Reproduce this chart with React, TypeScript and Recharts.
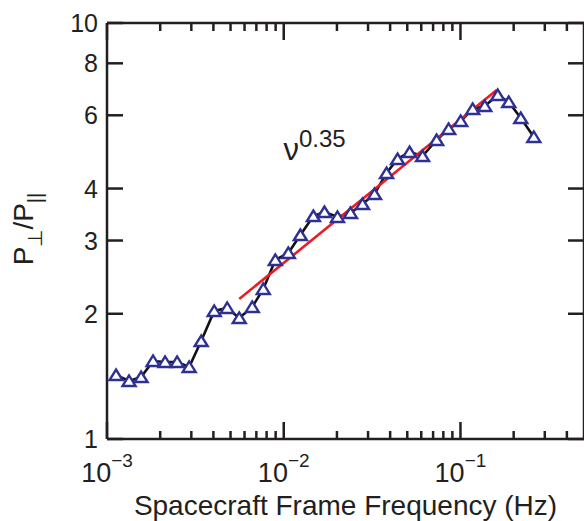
import React from "react";
import { LineChart, Line, XAxis, YAxis, ReferenceDot, ReferenceLine, Label } from "recharts";

// measured P_perp / P_par ratio vs spacecraft-frame frequency (Hz)
const freq = [
  0.001125, 0.001333, 0.001559, 0.001823, 0.002132, 0.002494, 0.002917,
  0.003411, 0.004043, 0.00479, 0.005602, 0.006637, 0.007663, 0.008962,
  0.01062, 0.01242, 0.01472, 0.017, 0.02014, 0.02386, 0.02791, 0.03264,
  0.03817, 0.04406, 0.05152, 0.06104, 0.0733, 0.08573, 0.1003, 0.1173,
  0.1372, 0.1625, 0.1876, 0.2194, 0.26,
];
const ratio = [
  1.425, 1.379, 1.409, 1.54, 1.532, 1.532, 1.49, 1.72, 2.031, 2.065, 1.954,
  2.077, 2.294, 2.694, 2.8, 3.093, 3.436, 3.513, 3.418, 3.494, 3.672, 3.881,
  4.359, 4.71, 4.896, 4.789, 5.233, 5.563, 5.814, 6.214, 6.318, 6.713, 6.458,
  5.91, 5.321,
];

// power-law fit, nu^0.35
const fitFreq = [0.0056, 0.1604];
const fitRatio = [2.17, 6.9];

const xTicks = [
  0.001, 0.002, 0.003, 0.004, 0.005, 0.006, 0.007, 0.008, 0.009,
  0.01, 0.02, 0.03, 0.04, 0.05, 0.06, 0.07, 0.08, 0.09,
  0.1, 0.2, 0.3, 0.4,
];
const xDecades = [0.001, 0.01, 0.1];
const xExponents = ["\u22123", "\u22122", "\u22121"];
const yTicks = [1, 2, 3, 4, 6, 8, 10];

const data = freq.map((f, i) => ({ f, r: ratio[i] }));
const fitData = fitFreq.map((f, i) => ({ f, r: fitRatio[i] }));

const INK = "#231f20";
const BLUE = "#2e3192";
const FONT = "'Liberation Sans', Arial, Helvetica, sans-serif";

// box edges in px (chart margins below put them here)
const PLOT_LEFT = 107;
const PLOT_TOP = 23;
const PLOT_RIGHT = 584;
const PLOT_BOTTOM = 439;

// bottom + top ticks pointing into the box
function XTick({ payload }: any) {
  const x = payload.coordinate;
  const idx = xDecades.indexOf(payload.value);
  const len = idx >= 0 ? 17 : 8;
  return (
    <g>
      <line x1={x} x2={x} y1={PLOT_BOTTOM} y2={PLOT_BOTTOM - len} stroke={INK} strokeWidth={2.5} />
      <line x1={x} x2={x} y1={PLOT_TOP} y2={PLOT_TOP + len} stroke={INK} strokeWidth={2.5} />
      {idx >= 0 && (
        <text x={x} y={PLOT_BOTTOM + 43} textAnchor="middle" fontSize={27} fill={INK} fontFamily={FONT}>
          10
          <tspan dy={-15} fontSize={19}>
            {xExponents[idx]}
          </tspan>
        </text>
      )}
    </g>
  );
}

// left + right ticks
function YTick({ payload }: any) {
  const y = payload.coordinate;
  return (
    <g>
      <line x1={PLOT_LEFT} x2={PLOT_LEFT + 16} y1={y} y2={y} stroke={INK} strokeWidth={2.5} />
      <line x1={PLOT_RIGHT} x2={PLOT_RIGHT - 16} y1={y} y2={y} stroke={INK} strokeWidth={2.5} />
      <text x={PLOT_LEFT - 9} y={y + 9} textAnchor="end" fontSize={25} fill={INK} fontFamily={FONT}>
        {payload.value}
      </text>
    </g>
  );
}

function Triangle(props: any) {
  const { cx, cy, index } = props;
  if (cx == null || cy == null) return <g key={index} />;
  return (
    <polygon
      key={index}
      points={`${cx},${cy - 5.5} ${cx - 6.5},${cy + 5} ${cx + 6.5},${cy + 5}`}
      fill="#fff"
      stroke={BLUE}
      strokeWidth={2.4}
      strokeLinejoin="miter"
    />
  );
}

export default function App() {
  return (
    <div style={{ position: "absolute", left: 0, top: 0, width: 584, height: 521, background: "#fff" }}>
      <LineChart width={584} height={521} margin={{ top: PLOT_TOP, right: 0, bottom: 0, left: 0 }}>
        <XAxis
          dataKey="f"
          type="number"
          scale="log"
          domain={[0.001, 0.5]}
          allowDataOverflow
          ticks={xTicks}
          interval={0}
          tick={XTick}
          tickLine={false}
          tickSize={0}
          tickMargin={0}
          height={521 - PLOT_BOTTOM}
          axisLine={{ stroke: INK, strokeWidth: 2.5 }}
        >
          <Label
            content={({ viewBox }: any) => (
              <text
                x={viewBox.x + viewBox.width / 2}
                y={PLOT_BOTTOM + 76}
                textAnchor="middle"
                fontSize={28}
                fill={INK}
                fontFamily={FONT}
              >
                Spacecraft Frame Frequency (Hz)
              </text>
            )}
          />
        </XAxis>
        <YAxis
          dataKey="r"
          type="number"
          scale="log"
          domain={[1, 10]}
          allowDataOverflow
          ticks={yTicks}
          interval={0}
          tick={YTick}
          tickLine={false}
          tickSize={0}
          tickMargin={0}
          width={PLOT_LEFT}
          axisLine={{ stroke: INK, strokeWidth: 2.5 }}
        >
          <Label
            content={() => (
              <text
                x={33}
                y={229}
                transform="rotate(-90, 33, 229)"
                textAnchor="middle"
                fontSize={28}
                fill={INK}
                fontFamily={FONT}
              >
                P
                <tspan dy={9} fontSize={20}>
                  {"\u22a5"}
                </tspan>
                <tspan dy={-9} fontSize={28}>
                  /P
                </tspan>
                <tspan dy={9} fontSize={20}>
                  ||
                </tspan>
              </text>
            )}
          />
        </YAxis>
        <ReferenceLine y={10} stroke={INK} strokeWidth={2.5} />
        <ReferenceLine x={0.5} stroke={INK} strokeWidth={2.5} />
        <Line
          data={data}
          dataKey="r"
          stroke="#111"
          strokeWidth={2.6}
          dot={Triangle}
          activeDot={false}
          isAnimationActive={false}
        />
        <Line
          data={fitData}
          dataKey="r"
          stroke="#ec1c24"
          strokeWidth={2.6}
          dot={false}
          activeDot={false}
          isAnimationActive={false}
        />
        <ReferenceDot
          x={0.0101}
          y={4.69}
          r={1}
          fill="none"
          stroke="none"
          label={{
            content: ({ viewBox }: any) => (
              <text x={viewBox.x} y={viewBox.y + 1} fontSize={31} fill={INK} fontFamily={FONT}>
                {"\u03bd"}
                <tspan dy={-13} fontSize={24}>
                  0.35
                </tspan>
              </text>
            ),
          }}
        />
      </LineChart>
    </div>
  );
}
